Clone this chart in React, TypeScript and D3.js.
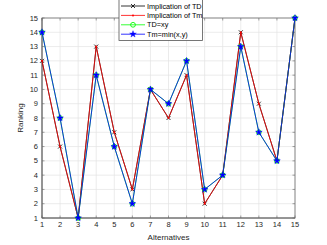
import * as d3 from "d3";
import React from "react";

const alternatives = d3.range(1, 16);
const implicationTD = [12, 6, 1, 13, 7, 3, 10, 8, 11, 2, 4, 14, 9, 5, 15];
const implicationTm = [12, 6, 1, 13, 7, 3, 10, 8, 11, 2, 4, 14, 9, 5, 15];
const tdXY = [14, 8, 1, 11, 6, 2, 10, 9, 12, 3, 4, 13, 7, 5, 15];
const tmMin = [14, 8, 1, 11, 6, 2, 10, 9, 12, 3, 4, 13, 7, 5, 15];
const yTickValues = d3.range(1, 16);
const legendLabels = ["Implication of TD", "Implication of Tm", "TD=xy", "Tm=min(x,y)"];

export default function App() {
  const width = 327;
  const height = 245;
  const margin = { left: 42, right: 32, top: 18, bottom: 27 };
  const innerW = width - margin.left - margin.right;
  const innerH = height - margin.top - margin.bottom;

  const x = d3.scaleLinear().domain([1, 15]).range([0, innerW]);
  const y = d3.scaleLinear().domain([1, 15]).range([innerH, 0]);

  const line = d3
    .line<number>()
    .x((_, i) => x(alternatives[i]))
    .y((d) => y(d));

  const star = d3.symbol().type(d3.symbolStar).size(14)();
  const font = "Arial, 'Liberation Sans', sans-serif";

  const series = [
    { label: legendLabels[0], values: implicationTD, color: "#000000", marker: "x" },
    { label: legendLabels[1], values: implicationTm, color: "#ff0000", marker: "dot" },
    { label: legendLabels[2], values: tdXY, color: "#00ff00", marker: "circle" },
    { label: legendLabels[3], values: tmMin, color: "#0000ff", marker: "star" },
  ];

  function drawMarker(kind: string, color: string, cx: number, cy: number, key: string) {
    if (kind === "x") {
      const s = 2;
      return (
        <g key={key} stroke={color} strokeWidth="0.8">
          <line x1={cx - s} y1={cy - s} x2={cx + s} y2={cy + s} />
          <line x1={cx - s} y1={cy + s} x2={cx + s} y2={cy - s} />
        </g>
      );
    }
    if (kind === "dot") {
      return <circle key={key} cx={cx} cy={cy} r="1" fill={color} />;
    }
    if (kind === "circle") {
      return <circle key={key} cx={cx} cy={cy} r="2.4" fill="none" stroke={color} strokeWidth="0.9" />;
    }
    return <path key={key} d={star!} transform={`translate(${cx},${cy})`} fill={color} stroke={color} strokeWidth="0.4" />;
  }

  return (
    <svg
      width={width}
      height={height}
      style={{ position: "absolute", left: 0, top: 0, background: "#fff" }}
      fontFamily={font}
    >
      <g transform={`translate(${margin.left},${margin.top})`}>
        {/* grid */}
        <g stroke="#e3e3e3" strokeWidth="0.7">
          {alternatives.map((d) => (
            <line key={"gx" + d} x1={x(d)} x2={x(d)} y1={0} y2={innerH} />
          ))}
          {yTickValues.map((d) => (
            <line key={"gy" + d} x1={0} x2={innerW} y1={y(d)} y2={y(d)} />
          ))}
        </g>
        {/* box */}
        <rect x={0} y={0} width={innerW} height={innerH} fill="none" stroke="#8a8a8a" strokeWidth="1" />
        <g stroke="#555" strokeWidth="0.8">
          <line x1={0} y1={0} x2={0} y2={innerH} />
          <line x1={0} y1={innerH} x2={innerW} y2={innerH} />
        </g>
        {/* ticks */}
        <g stroke="#666" strokeWidth="0.6">
          {alternatives.map((d) => (
            <g key={"tx" + d}>
              <line x1={x(d)} x2={x(d)} y1={innerH} y2={innerH - 2.5} />
              <line x1={x(d)} x2={x(d)} y1={0} y2={2.5} />
            </g>
          ))}
          {yTickValues.map((d) => (
            <g key={"ty" + d}>
              <line x1={0} x2={2.5} y1={y(d)} y2={y(d)} />
              <line x1={innerW} x2={innerW - 2.5} y1={y(d)} y2={y(d)} />
            </g>
          ))}
        </g>
        <g fontSize="7.5" fill="#262626">
          {alternatives.map((d) => (
            <text key={"lx" + d} x={x(d)} y={innerH + 9} textAnchor="middle">
              {d}
            </text>
          ))}
          {yTickValues.map((d) => (
            <text key={"ly" + d} x={-4} y={y(d)} textAnchor="end" dominantBaseline="central">
              {d}
            </text>
          ))}
        </g>
        <text x={innerW / 2} y={innerH + 22} textAnchor="middle" fontSize="8" fill="#262626">
          Alternatives
        </text>
        <text
          transform={`translate(${-19},${innerH / 2}) rotate(-90)`}
          textAnchor="middle"
          fontSize="8"
          fill="#262626"
        >
          Ranking
        </text>
        {/* series */}
        {series.map((s, i) => (
          <g key={"s" + i}>
            <path d={line(s.values)!} fill="none" stroke={s.color} strokeWidth="0.8" />
            {s.values.map((v, j) => drawMarker(s.marker, s.color, x(alternatives[j]), y(v), `m${i}-${j}`))}
          </g>
        ))}
      </g>
      {/* legend */}
      <g>
        <rect x={119} y={-3} width={83.5} height={43.5} fill="#fff" stroke="#555" strokeWidth="0.8" />
        {series.map((s, i) => {
          const ly = 6 + i * 9.4;
          return (
            <g key={"lg" + i}>
              <line x1={121} x2={145} y1={ly} y2={ly} stroke={s.color} strokeWidth="0.8" />
              {drawMarker(s.marker, s.color, 133, ly, "lm" + i)}
              <text x={147} y={ly} dominantBaseline="central" fontSize="7.3" fill="#000">
                {s.label}
              </text>
            </g>
          );
        })}
      </g>
    </svg>
  );
}
